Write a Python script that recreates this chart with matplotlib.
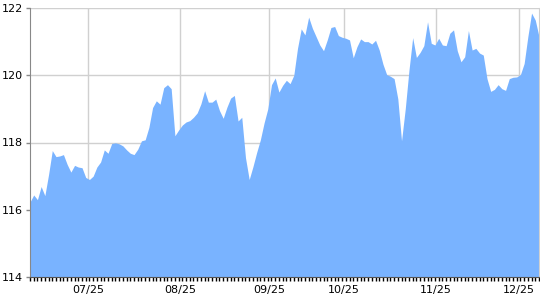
import numpy as np
import matplotlib
matplotlib.use("Agg")
import matplotlib.pyplot as plt

# daily closing values (one per trading day)
values = [
    116.23, 116.44, 116.30, 116.69, 116.42, 117.05, 117.76, 117.58, 117.60, 117.64,
    117.35, 117.12, 117.32, 117.27, 117.25, 116.96, 116.90, 117.00, 117.27, 117.42,
    117.78, 117.68, 117.97, 117.99, 117.96, 117.90, 117.78, 117.68, 117.64, 117.80,
    118.05, 118.08, 118.45, 119.04, 119.24, 119.14, 119.63, 119.72, 119.60, 118.20,
    118.37, 118.52, 118.61, 118.65, 118.75, 118.88, 119.15, 119.54, 119.20, 119.20,
    119.29, 118.95, 118.72, 119.05, 119.32, 119.40, 118.64, 118.75, 117.55, 116.90,
    117.28, 117.70, 118.08, 118.58, 119.00, 119.72, 119.92, 119.50, 119.70, 119.85,
    119.75, 120.00, 120.80, 121.38, 121.20, 121.73, 121.40, 121.15, 120.90, 120.73,
    121.05, 121.42, 121.45, 121.18, 121.13, 121.10, 121.05, 120.52, 120.85, 121.08,
    121.00, 121.00, 120.93, 121.04, 120.75, 120.33, 120.02, 119.97, 119.90, 119.30,
    118.05, 119.00, 120.15, 121.12, 120.53, 120.68, 120.88, 121.59, 120.95, 120.90,
    121.10, 120.90, 120.88, 121.25, 121.35, 120.73, 120.40, 120.55, 121.33, 120.75,
    120.80, 120.66, 120.60, 119.90, 119.52, 119.58, 119.72, 119.60, 119.55, 119.90,
    119.94, 119.95, 120.02, 120.35, 121.15, 121.85, 121.64, 121.15,
]
month_labels = ["07/25", "08/25", "09/25", "10/25", "11/25", "12/25"]
month_pos = [15.6, 40.4, 64.3, 84.5, 109.3, 131.6]
y_ticks = [114, 116, 118, 120, 122]

x = np.arange(len(values))

fig = plt.figure(figsize=(5.4, 3.0), dpi=100)
ax = fig.add_axes([30 / 540, 23 / 300, 509 / 540, 269 / 300])

ax.set_axisbelow(True)
ax.grid(True, color="#d0d0d0", linewidth=1)
ax.fill_between(x, 114, values, color="#79b3ff", linewidth=0, zorder=2)

ax.set_xlim(0, len(values) - 1)
ax.set_ylim(114, 122)
ax.set_yticks(y_ticks)
ax.set_xticks(month_pos)
ax.set_xticklabels(month_labels)
ax.set_xticks(x, minor=True)

ax.tick_params(axis="x", which="major", length=0, labelsize=8, pad=6)
ax.tick_params(axis="x", which="minor", length=3, width=1, color="black", direction="out")
ax.tick_params(axis="y", length=3, width=1, color="#888888", labelsize=8, pad=2)

for side in ["top"]:
    ax.spines[side].set_visible(False)
ax.spines["left"].set_color("#888888")
ax.spines["right"].set_color("#d0d0d0")
ax.spines["bottom"].set_color("#555555")

fig.savefig("out.png", dpi=100)
